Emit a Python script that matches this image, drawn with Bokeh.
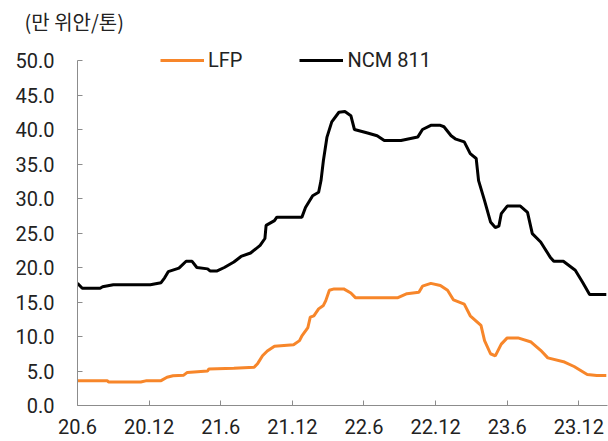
from bokeh.plotting import figure
from bokeh.models import FixedTicker, Legend, LegendItem, Range1d
from bokeh.embed import file_html
from bokeh.resources import INLINE

# months since 2020-06
x_ticks = [0, 6, 12, 18, 24, 30, 36, 42]
x_tick_labels = ["20.6", "20.12", "21.6", "21.12", "22.6", "22.12", "23.6", "23.12"]
y_ticks = [0, 5, 10, 15, 20, 25, 30, 35, 40, 45, 50]

lfp_m = [0, 2.5, 2.6, 5.3, 5.8, 7.0, 7.5, 8.0, 8.9, 9.2, 10.9, 11.0, 13.1, 14.8, 15.1, 15.5,
         15.9, 16.5, 18.1, 18.6, 18.8, 19.3, 19.5, 19.8, 20.2, 20.6, 20.8, 21.1, 21.5, 22.3,
         22.9, 23.3, 26.8, 27.6, 28.6, 28.9, 29.6, 30.4, 31.0, 31.5, 32.4, 32.9, 33.8, 34.1,
         34.6, 35.0, 35.5, 36.0, 36.9, 38.0, 38.8, 39.4, 40.8, 41.6, 42.7, 43.5, 44.3]
lfp_v = [3.6, 3.6, 3.4, 3.4, 3.6, 3.6, 4.1, 4.3, 4.4, 4.8, 5.0, 5.3, 5.4, 5.55, 6.1, 7.2,
         7.9, 8.6, 8.8, 9.4, 10.1, 11.3, 12.8, 13.0, 14.0, 14.5, 15.2, 16.7, 16.9, 16.9,
         16.3, 15.6, 15.6, 16.2, 16.4, 17.3, 17.7, 17.4, 16.7, 15.3, 14.7, 13.0, 11.6, 9.4,
         7.5, 7.2, 8.9, 9.8, 9.8, 9.2, 8.0, 6.9, 6.3, 5.65, 4.5, 4.35, 4.35]

ncm_m = [0, 0.4, 1.9, 2.1, 3.0, 6.1, 7.0, 7.3, 7.6, 8.5, 9.1, 9.6, 10.0, 10.9, 11.1, 11.7,
         12.3, 13.1, 13.7, 14.5, 15.3, 15.7, 15.8, 16.5, 16.7, 18.8, 19.1, 19.7, 20.2, 20.4,
         20.6, 20.9, 21.3, 21.9, 22.4, 22.9, 23.2, 24.3, 25.1, 25.7, 27.1, 28.5, 28.9, 29.6,
         30.4, 30.7, 31.3, 31.7, 32.4, 32.9, 33.4, 33.6, 34.1, 34.6, 35.0, 35.3, 35.5, 36.0,
         37.1, 37.7, 38.1, 38.8, 39.6, 39.9, 40.7, 41.7, 42.3, 42.9, 44.3]
ncm_v = [17.7, 17.0, 17.0, 17.2, 17.5, 17.5, 17.8, 18.5, 19.4, 19.9, 20.9, 20.9, 20.0, 19.8, 19.5, 19.5,
         20.0, 20.8, 21.6, 22.1, 23.2, 24.2, 26.1, 26.8, 27.3, 27.3, 28.7, 30.4, 30.9, 32.6,
         35.5, 38.9, 41.1, 42.5, 42.6, 42.0, 40.0, 39.5, 39.1, 38.4, 38.4, 38.9, 40.0, 40.6,
         40.6, 40.4, 39.1, 38.6, 38.2, 36.5, 35.8, 32.6, 29.7, 26.6, 25.8, 26.0, 27.8, 28.9,
         28.9, 28.0, 24.9, 23.7, 21.5, 20.9, 20.9, 19.6, 17.9, 16.1, 16.1]

FONT = "Roboto"
AX = "#8c8c8c"
TXT = "#222222"

TOP = 36          # frame top (px)
BOTTOM = 405      # frame bottom (px)
Y_END = 50 * (BOTTOM - TOP) / (BOTTOM - 60)   # 50.0 sits at y=60 px

p = figure(width=608, height=441, output_backend="svg", toolbar_location=None,
           x_range=Range1d(0, 44.4), y_range=Range1d(0, Y_END),
           min_border_left=77, min_border_right=1, min_border_top=TOP,
           min_border_bottom=441 - BOTTOM,
           title="(만 위안/톤)")
p.outline_line_color = None
p.xgrid.grid_line_color = None
p.ygrid.grid_line_color = None
p.background_fill_color = "white"
p.border_fill_color = "white"

p.title.align = "left"
p.title.offset = -53
p.title.standoff = 1
p.title.text_font = "Noto Sans CJK KR"
p.title.text_font_size = "20px"
p.title.text_font_style = "normal"
p.title.text_color = TXT

r_lfp = p.line(lfp_m, lfp_v, line_color="#F7862A", line_width=3)
r_ncm = p.line(ncm_m, ncm_v, line_color="#000000", line_width=3)

xa = p.xaxis[0]
xa.ticker = FixedTicker(ticks=x_ticks)
xa.major_label_overrides = {t: l for t, l in zip(x_ticks, x_tick_labels)}
ya = p.yaxis[0]
ya.ticker = FixedTicker(ticks=y_ticks)
ya.major_label_overrides = {t: f"{t:.1f}" for t in y_ticks}
ya.bounds = (0, 50)
for ax in (xa, ya):
    ax.axis_line_color = AX
    ax.axis_line_width = 1
    ax.major_tick_line_color = AX
    ax.major_tick_in = 5
    ax.major_tick_out = 0
    ax.minor_tick_line_color = None
    ax.major_label_text_font = FONT
    ax.major_label_text_font_size = "20px"
    ax.major_label_text_color = TXT
xa.major_label_standoff = 13
ya.major_label_standoff = 23

legend = Legend(items=[LegendItem(label="LFP", renderers=[r_lfp]),
                       LegendItem(label="NCM 811", renderers=[r_ncm])],
                orientation="horizontal", location=(83, BOTTOM - 60 - 12),
                padding=0, margin=0, spacing=57, glyph_width=44, glyph_height=24,
                label_height=24, label_standoff=4, border_line_color=None,
                background_fill_alpha=0,
                label_text_font=FONT, label_text_font_size="20px", label_text_color=TXT)
p.add_layout(legend)

open("out.html", "w").write(file_html(p, INLINE))
